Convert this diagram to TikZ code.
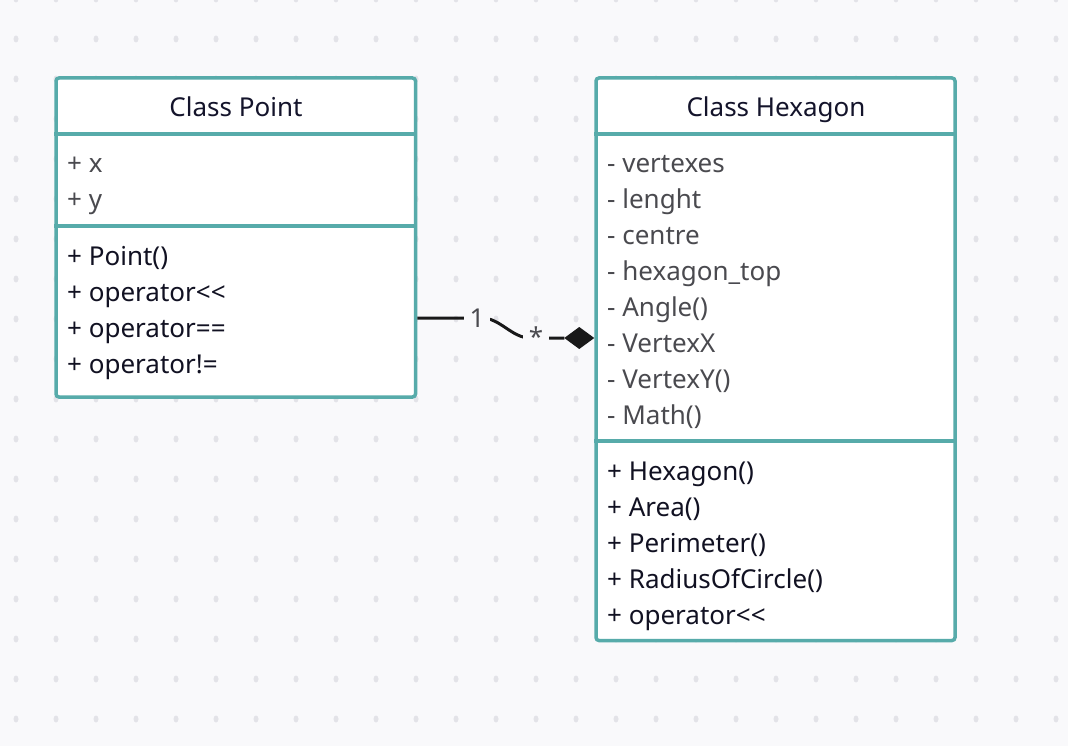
\documentclass[tikz,border=0pt]{standalone}
\usepackage{fontspec}
\setmainfont{Noto Sans}
\definecolor{bgc}{HTML}{F9F9FB}
\definecolor{dotc}{HTML}{E3E3E8}
\definecolor{tealc}{HTML}{57ABAA}
\definecolor{hdrc}{HTML}{14142B}
\definecolor{attrc}{HTML}{4A4A4F}
\definecolor{methc}{HTML}{111122}
\tikzset{
  classbox/.style={draw=tealc, line width=3.5pt, fill=white, rounded corners=3pt, inner sep=0pt},
  divider/.style={draw=tealc, line width=3.5pt},
  title/.style={font=\fontsize{26}{30}\selectfont, text=hdrc, anchor=base, inner sep=0pt},
  attr/.style={font=\fontsize{26}{30}\selectfont, text=attrc, anchor=base west, inner sep=0pt},
  meth/.style={font=\fontsize{26}{30}\selectfont, text=methc, anchor=base west, inner sep=0pt},
  mult/.style={font=\fontsize{26}{30}\selectfont, text=attrc, fill=bgc, inner xsep=6pt, inner ysep=2pt},
  conn/.style={draw=black!90, line width=3pt},
}
\begin{document}
\begin{tikzpicture}[x=1pt,y=-1pt]
\fill[bgc] (0,0) rectangle (1068,746);
\useasboundingbox (0,0) rectangle (1068,746);
\foreach \i in {0,...,26} \foreach \j in {0,...,18}
  \fill[dotc] (16+40*\i,-1+40*\j) ellipse [x radius=2.5, y radius=3.5];

% Class Point
\node[classbox, minimum width=359.5pt, minimum height=319pt] (pt) at (235.75,237.5) {};
\draw[divider] (pt.west |- 0,134) -- (pt.east |- 0,134);
\draw[divider] (pt.west |- 0,226) -- (pt.east |- 0,226);
\node[title] (ptt) at (236,116.5) {Class Point};
\node[attr] (pa1) at (67,172.5) {+ x};
\node[attr] (pa2) at (67,208.5) {+ y};
\node[meth] (pm1) at (67,265) {+ Point()};
\node[meth] (pm2) at (67,301) {+ operator<{}<};
\node[meth] (pm3) at (67,337) {+ operator==};
\node[meth] (pm4) at (67,373) {+ operator!=};

% Class Hexagon
\node[classbox, minimum width=359pt, minimum height=562.5pt] (hx) at (775.5,359.25) {};
\draw[divider] (hx.west |- 0,134) -- (hx.east |- 0,134);
\draw[divider] (hx.west |- 0,441) -- (hx.east |- 0,441);
\node[title] (hxt) at (776,116.5) {Class Hexagon};
\node[attr] (ha1) at (607,172.5) {- vertexes};
\node[attr] (ha2) at (607,208.5) {- lenght};
\node[attr] (ha3) at (607,244.5) {- centre};
\node[attr] (ha4) at (607,280.5) {- hexagon\_top};
\node[attr] (ha5) at (607,316.5) {- Angle()};
\node[attr] (ha6) at (607,352.5) {- VertexX};
\node[attr] (ha7) at (607,388.5) {- VertexY()};
\node[attr] (ha8) at (607,424.5) {- Math()};
\node[meth] (hm1) at (607,480) {+ Hexagon()};
\node[meth] (hm2) at (607,516) {+ Area()};
\node[meth] (hm3) at (607,552) {+ Perimeter()};
\node[meth] (hm4) at (607,588) {+ RadiusOfCircle()};
\node[meth] (hm5) at (607,624) {+ operator<{}<};

% Connector
\coordinate (cs) at (pt.east |- 0,318);
\coordinate (ce) at (hx.west |- 0,338);
\coordinate (cd) at ([xshift=-30pt]ce);
\draw[conn] (cs) -- (482,318) .. controls (500,318) and (512,338) .. (530,338) -- (cd);
\fill[black!90] (ce) -- ([shift={(-15pt,-11pt)}]ce) -- (cd) -- ([shift={(-15pt,11pt)}]ce) -- cycle;
\node[mult] (m1) at (477,318) {1};
\node[mult] (m2) at (536,337) {*};
\end{tikzpicture}
\end{document}
